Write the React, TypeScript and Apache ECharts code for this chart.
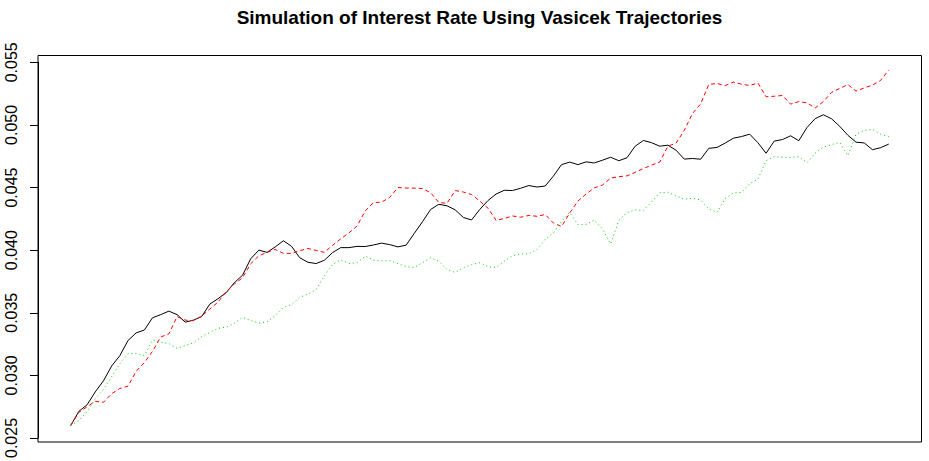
import React, { useEffect, useRef } from "react";
import * as echarts from "echarts";

const chartTitle = "Simulation of Interest Rate Using Vasicek Trajectories";

// time index of each simulated step (0..100)
const timeSteps: number[] = Array.from({ length: 101 }, (_, i) => i);

const path1Black: number[] = [
  0.026, 0.02713, 0.02765, 0.02868, 0.02956, 0.03075, 0.03157, 0.03278, 0.03339, 0.03362,
  0.0346, 0.03485, 0.03513, 0.03485, 0.03425, 0.03441, 0.03469, 0.03569, 0.03612, 0.0366,
  0.0374, 0.03799, 0.03931, 0.04, 0.03982, 0.04026, 0.04075, 0.0403, 0.03939, 0.03903,
  0.03893, 0.03919, 0.0398, 0.0402, 0.0402, 0.0403, 0.04029, 0.04041, 0.04056, 0.04044,
  0.04026, 0.0404, 0.04134, 0.04227, 0.04325, 0.04366, 0.04354, 0.04322, 0.04261, 0.04241,
  0.04325, 0.04396, 0.04448, 0.04478, 0.04476, 0.04494, 0.04516, 0.04504, 0.04512, 0.04591,
  0.04683, 0.04703, 0.04683, 0.04705, 0.04696, 0.04718, 0.04742, 0.04714, 0.04738, 0.0483,
  0.04876, 0.04858, 0.0483, 0.04838, 0.04798, 0.04727, 0.04732, 0.04726, 0.04813, 0.0482,
  0.04855, 0.04894, 0.04907, 0.04926, 0.04858, 0.04774, 0.04871, 0.04883, 0.04913, 0.04874,
  0.04979, 0.0505, 0.05081, 0.05049, 0.04989, 0.04917, 0.04862, 0.04856, 0.04802, 0.04818,
  0.04847,
];

const path2Red: number[] = [
  0.026, 0.02705, 0.02749, 0.02793, 0.02785, 0.02853, 0.02895, 0.02914, 0.03033, 0.03102,
  0.03192, 0.03306, 0.03332, 0.03469, 0.03441, 0.03437, 0.03473, 0.03529, 0.03585, 0.03668,
  0.0373, 0.03779, 0.03891, 0.03955, 0.03982, 0.04006, 0.03974, 0.03974, 0.03996, 0.04013,
  0.03998, 0.03982, 0.04038, 0.0409, 0.04137, 0.04193, 0.04313, 0.0438, 0.04383, 0.04422,
  0.045, 0.04496, 0.04495, 0.04492, 0.04458, 0.0438, 0.04374, 0.04476, 0.04464, 0.04444,
  0.04392, 0.04336, 0.04237, 0.04253, 0.04273, 0.04263, 0.04277, 0.0427, 0.04285, 0.04217,
  0.04189, 0.04297, 0.04392, 0.04448, 0.04497, 0.0452, 0.04575, 0.04587, 0.04593, 0.04621,
  0.04652, 0.04679, 0.04703, 0.0483, 0.04855, 0.04956, 0.05091, 0.05168, 0.05323, 0.05331,
  0.05314, 0.05342, 0.05325, 0.05315, 0.05335, 0.05225, 0.05229, 0.05235, 0.05166, 0.05186,
  0.05176, 0.05135, 0.05186, 0.05259, 0.05292, 0.05322, 0.0527, 0.05295, 0.05318, 0.05355,
  0.05439,
];

const path3Green: number[] = [
  0.026, 0.0264, 0.02711, 0.02813, 0.02888, 0.02989, 0.03092, 0.03172, 0.03175, 0.03158,
  0.03282, 0.03264, 0.03254, 0.03215, 0.03238, 0.0326, 0.03309, 0.03343, 0.03375, 0.03386,
  0.03415, 0.03464, 0.03438, 0.03417, 0.03428, 0.03478, 0.03543, 0.03564, 0.03624, 0.03649,
  0.03684, 0.03794, 0.03885, 0.03922, 0.03893, 0.039, 0.03952, 0.0392, 0.03914, 0.03916,
  0.03891, 0.03868, 0.03861, 0.039, 0.03939, 0.03911, 0.03845, 0.03822, 0.03859, 0.03884,
  0.039, 0.03868, 0.03861, 0.03911, 0.03956, 0.0397, 0.0397, 0.04006, 0.04086, 0.04138,
  0.04229, 0.04301, 0.04205, 0.04205, 0.04241, 0.04169, 0.0405, 0.04237, 0.04301, 0.04321,
  0.04317, 0.04384, 0.04458, 0.04463, 0.04433, 0.04407, 0.04414, 0.04401, 0.04329, 0.04301,
  0.04412, 0.04457, 0.0446, 0.04531, 0.04567, 0.04714, 0.04748, 0.04741, 0.04741, 0.04746,
  0.04699, 0.04774, 0.04823, 0.04843, 0.0486, 0.04754, 0.04925, 0.04956, 0.04964, 0.04925,
  0.04908,
];

const yMin = 0.025;
const yMax = 0.055;
const yStep = 0.005;

const FONT = "'Liberation Sans', Arial, Helvetica, sans-serif";

export default function App() {
  const ref = useRef<HTMLDivElement>(null);

  useEffect(() => {
    if (!ref.current) return;
    const chart = echarts.init(ref.current, undefined, { renderer: "svg" });

    const toPairs = (vals: number[]) => timeSteps.map((t, i) => [t, vals[i]]);

    const lineSeries = (name: string, vals: number[], color: string, type: any) => ({
      name,
      type: "line",
      data: toPairs(vals),
      showSymbol: false,
      symbol: "none",
      lineStyle: { color, width: 1, type },
      silent: true,
    });

    chart.setOption({
      animation: false,
      backgroundColor: "#ffffff",
      grid: { left: 38, right: 7.5, top: 62.3, bottom: 21.7, containLabel: false },
      xAxis: {
        type: "value",
        min: -4,
        max: 104,
        show: false,
      },
      yAxis: {
        type: "value",
        min: yMin,
        max: yMax,
        interval: yStep,
        axisLine: { show: true, onZero: false, lineStyle: { color: "#000", width: 1 } },
        axisTick: { show: true, length: 8, lineStyle: { color: "#000", width: 1 } },
        splitLine: { show: false },
        axisLabel: {
          rotate: 90,
          margin: 19,
          color: "#000",
          fontSize: 16,
          fontFamily: FONT,
          formatter: (v: number) => v.toFixed(3),
        },
      },
      graphic: [
        {
          type: "rect",
          shape: { x: 38, y: 55.5, width: 883.5, height: 386.5 },
          style: { fill: "none", stroke: "#000", lineWidth: 1 },
          silent: true,
          z: 10,
        },
        {
          type: "text",
          x: 479.5,
          y: 17.5,
          style: {
            text: chartTitle,
            textAlign: "center",
            textVerticalAlign: "middle",
            fontSize: 19,
            fontWeight: "bold",
            fontFamily: FONT,
            fill: "#000",
          },
        },
      ],
      series: [
        lineSeries("Trajectory 1", path1Black, "#000000", "solid"),
        lineSeries("Trajectory 2", path2Red, "#ff0000", [4, 3]),
        lineSeries("Trajectory 3", path3Green, "#00cd00", [1, 3]),
      ],
    });

    return () => chart.dispose();
  }, []);

  return (
    <div
      ref={ref}
      style={{ position: "fixed", left: 0, top: 0, width: 929, height: 461, background: "#fff" }}
    />
  );
}
